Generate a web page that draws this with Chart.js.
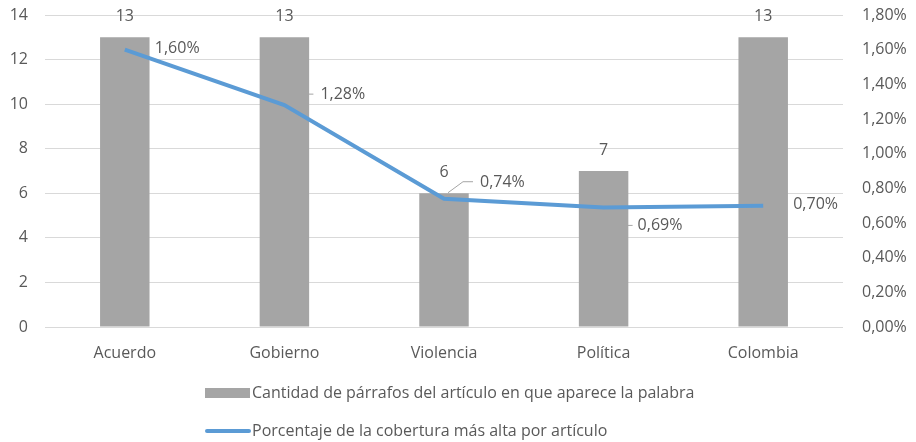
<!DOCTYPE html>
<html>
<head>
<meta charset="utf-8">
<script src="https://cdn.jsdelivr.net/npm/chart.js@4/dist/chart.umd.min.js"></script>
<style>
  html, body { margin: 0; padding: 0; background: #fff; }
  #wrap { width: 916px; height: 442px; }
</style>
</head>
<body>
<div id="wrap"><canvas id="myChart" width="916" height="442"></canvas></div>
<script>
const categorias = ["Acuerdo", "Gobierno", "Violencia", "Política", "Colombia"]
const parrafos = [13, 13, 6, 7, 13]
const cobertura = [1.60, 1.28, 0.74, 0.69, 0.70]
const ticksIzq = [0, 2, 4, 6, 8, 10, 12, 14]
const ticksDer = [0, 0.2, 0.4, 0.6, 0.8, 1.0, 1.2, 1.4, 1.6, 1.8]

const nombreBarras = "Cantidad de párrafos del artículo en que aparece la palabra"
const nombreLinea = "Porcentaje de la cobertura más alta por artículo"

const gris = "#A5A5A5"
const azul = "#5B9BD5"
const texto = "#595959"
const fuente = "'Open Sans', sans-serif"
const tam = 16

function pct(v) {
    return v.toFixed(2).replace(".", ",") + "%"
}

// posiciones de las etiquetas de la linea (relativas al punto)
const etiquetasLinea = [
    { dx: 30, dy: -1 },
    { dx: 36, dy: -11, guia: [[-12, 0], [-7, 0]] },
    { dx: 36, dy: -16, guia: [[4, -6], [19, -17], [29, -17]] },
    { dx: 34, dy: 18, guia: [[-10, 0], [-5, 0]] },
    { dx: 30, dy: -1 }
]

const etiquetasPlugin = {
    id: "etiquetas",
    afterDatasetsDraw(chart) {
        const ctx = chart.ctx
        ctx.save()
        ctx.font = tam + "px " + fuente
        ctx.fillStyle = texto
        // barras
        const metaB = chart.getDatasetMeta(0)
        ctx.textAlign = "center"
        ctx.textBaseline = "middle"
        metaB.data.forEach((bar, i) => {
            ctx.fillText(String(parrafos[i]), bar.x, bar.y - 21)
        })
        // linea
        const metaL = chart.getDatasetMeta(1)
        ctx.textAlign = "left"
        metaL.data.forEach((p, i) => {
            const e = etiquetasLinea[i]
            if (e.guia) {
                ctx.strokeStyle = gris
                ctx.lineWidth = 1
                ctx.beginPath()
                e.guia.forEach((g, k) => {
                    const gx = p.x + (i == 2 ? g[0] : e.dx + g[0])
                    const gy = p.y + (i == 2 ? g[1] : e.dy + g[1])
                    if (k == 0) ctx.moveTo(gx, gy)
                    else ctx.lineTo(gx, gy)
                })
                ctx.stroke()
            }
            ctx.fillText(pct(cobertura[i]), p.x + e.dx, p.y + e.dy)
        })
        ctx.restore()
    }
}

const leyendaPlugin = {
    id: "leyenda",
    afterDraw(chart) {
        const ctx = chart.ctx
        ctx.save()
        ctx.font = tam + "px " + fuente
        ctx.fillStyle = texto
        ctx.textBaseline = "middle"
        ctx.textAlign = "left"
        const x0 = 205
        // fila 1
        ctx.fillStyle = gris
        ctx.fillRect(x0, 388, 45, 10)
        ctx.fillStyle = texto
        ctx.fillText(nombreBarras, x0 + 47, 393)
        // fila 2
        ctx.strokeStyle = azul
        ctx.lineWidth = 4
        ctx.lineCap = "round"
        ctx.beginPath()
        ctx.moveTo(x0 + 2, 431)
        ctx.lineTo(x0 + 44, 431)
        ctx.stroke()
        ctx.fillText(nombreLinea, x0 + 47, 431)
        ctx.restore()
    }
}

function sinRelleno(s) {
    s.paddingTop = 0
    s.paddingBottom = 0
}

function renderGrafica() {
    const chartDOM = document.getElementById("myChart")
    new Chart(chartDOM, {
        data: {
            labels: categorias,
            datasets: [
                {
                    type: "bar",
                    label: nombreBarras,
                    data: parrafos,
                    backgroundColor: gris,
                    yAxisID: "y",
                    barPercentage: 0.62,
                    categoryPercentage: 0.5,
                    order: 2
                },
                {
                    type: "line",
                    label: nombreLinea,
                    data: cobertura,
                    borderColor: azul,
                    backgroundColor: azul,
                    borderWidth: 4,
                    pointRadius: 0,
                    tension: 0,
                    yAxisID: "y1",
                    order: 1
                }
            ]
        },
        options: {
            responsive: false,
            animation: false,
            layout: { padding: { top: 15, bottom: 75, left: 0, right: 0 } },
            plugins: {
                legend: { display: false },
                tooltip: { enabled: false }
            },
            scales: {
                x: {
                    grid: { display: false },
                    border: { display: false },
                    ticks: { color: texto, font: { size: tam, family: fuente }, padding: 9 },
                    afterFit(s) { s.height = 40 }
                },
                y: {
                    position: "left",
                    min: 0,
                    max: 14,
                    afterBuildTicks(s) { s.ticks = ticksIzq.map(v => ({ value: v })) },
                    grid: { color: "#D9D9D9", lineWidth: 1, drawTicks: false },
                    border: { display: false },
                    ticks: { color: texto, font: { size: tam, family: fuente }, padding: 17 },
                    afterFit(s) { s.width = 45; sinRelleno(s) }
                },
                y1: {
                    position: "right",
                    min: 0,
                    max: 1.8,
                    afterBuildTicks(s) { s.ticks = ticksDer.map(v => ({ value: v })) },
                    grid: { display: false, drawTicks: false },
                    border: { display: false },
                    ticks: { color: texto, font: { size: tam, family: fuente }, padding: 19, callback: v => pct(v) },
                    afterFit(s) { s.width = 73; sinRelleno(s) }
                }
            }
        },
        plugins: [etiquetasPlugin, leyendaPlugin]
    })
}

renderGrafica()
</script>
</body>
</html>
